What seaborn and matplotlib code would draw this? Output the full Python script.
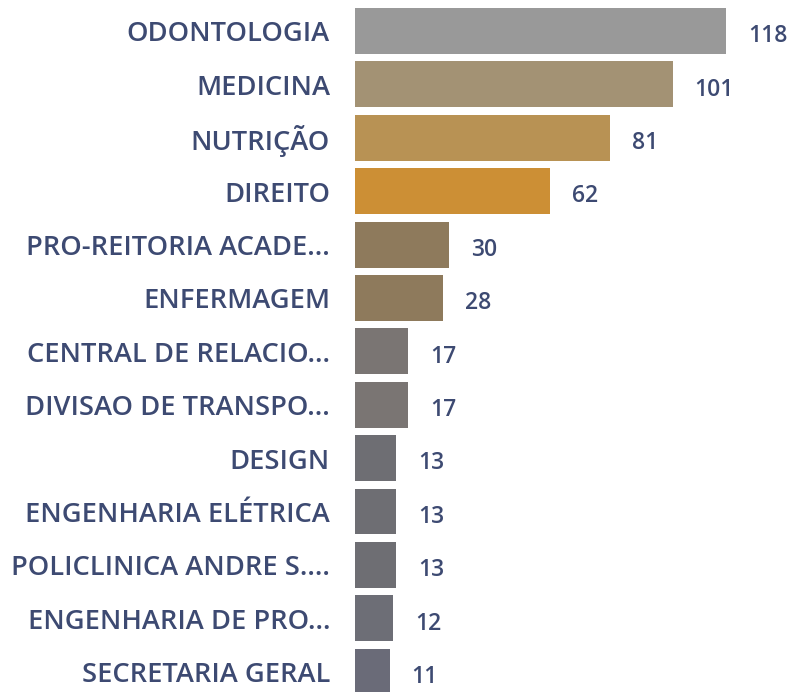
import matplotlib
matplotlib.use("Agg")
import matplotlib.pyplot as plt
import pandas as pd
import seaborn as sns

categorias = [
    "ODONTOLOGIA", "MEDICINA", "NUTRIÇÃO", "DIREITO", "PRO-REITORIA ACADE...",
    "ENFERMAGEM", "CENTRAL DE RELACIO...", "DIVISAO DE TRANSPO...", "DESIGN",
    "ENGENHARIA ELÉTRICA", "POLICLINICA ANDRE S....", "ENGENHARIA DE PRO...",
    "SECRETARIA GERAL",
]
valores = [118, 101, 81, 62, 30, 28, 17, 17, 13, 13, 13, 12, 11]
cores = [
    "#999999", "#a39274", "#b89254", "#cc8f35", "#8e7a5c", "#8e7a5c",
    "#7a7573", "#7a7573", "#6e6e73", "#6e6e73", "#6e6e73", "#6d6e76", "#6a6b78",
]

sns.set_style("white")
plt.rcParams["font.family"] = ["Open Sans", "DejaVu Sans"]
texto = "#3d4a72"

df = pd.DataFrame({"setor": categorias, "qtd": valores})

fig = plt.figure(figsize=(7.87, 6.92), dpi=100)
ax = fig.add_axes([355 / 787, 0, 1 - 355 / 787, 1])

sns.barplot(data=df, x="qtd", y="setor", hue="setor", palette=cores,
            order=categorias, hue_order=categorias, legend=False,
            width=0.86, orient="h", ax=ax, saturation=1, linewidth=0)

for i, v in enumerate(valores):
    ax.text(v + 7, i + 0.1, str(v), va="center", ha="left",
            fontsize=16.5, color=texto, fontweight="semibold")

ax.set_xlim(0, 137.4)
ax.set_ylim(12.38, -0.58)
ax.set_xlabel("")
ax.set_ylabel("")
ax.set_xticks([])
ax.tick_params(axis="y", length=0, pad=18)
for lbl in ax.get_yticklabels():
    lbl.set_fontsize(19.6)
    lbl.set_color(texto)
    lbl.set_fontweight("semibold")
sns.despine(ax=ax, left=True, bottom=True)

fig.savefig("out.png", dpi=100)
